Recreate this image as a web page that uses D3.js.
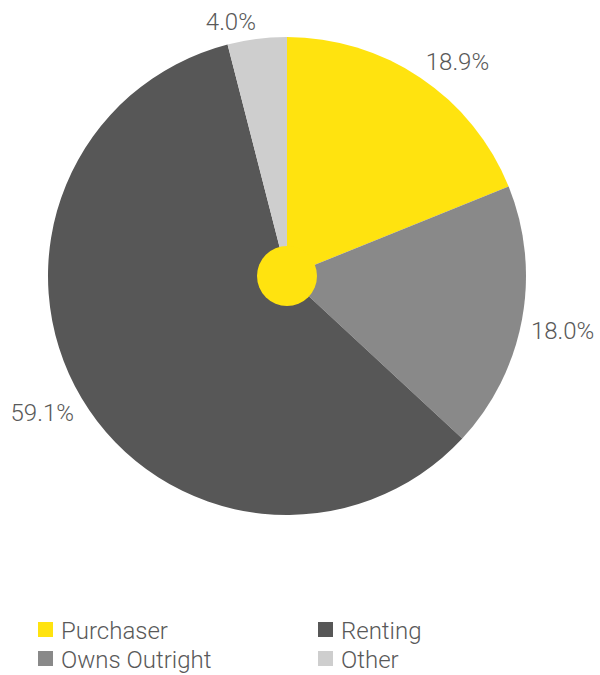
<!DOCTYPE html>
<html>
  <head>
    <meta charset="utf-8">
    <style>
      body { margin: 0; background: #fff; }
      text { font-family: Roboto, 'Liberation Sans', sans-serif; font-weight: 300; fill: #595959; }
    </style>
  </head>
  <body>
    <svg id="svg"></svg>

<script src="https://d3js.org/d3.v7.min.js"></script>
<script>

// data
const categories = ["Purchaser", "Owns Outright", "Renting", "Other"];
const shares = [18.9, 18.0, 59.1, 4.0];
const colours = ["#ffe30f", "#898989", "#575757", "#cecece"];
const legendOrder = ["Purchaser", "Renting", "Owns Outright", "Other"];

const width = 600;
const height = 675;
const cx = 287;
const cy = 276;
const radius = 239;
const labelRadius = 248;

const svg = d3.select("#svg")
    .attr("width", width)
    .attr("height", height);

const colour = d3.scaleOrdinal().domain(categories).range(colours);

const data = categories.map(function(c, i) { return { name: c, value: shares[i] }; });

const pie = d3.pie()
    .sort(null)
    .value(function(d) { return d.value; });

const arcs = pie(data);

const arc = d3.arc().innerRadius(0).outerRadius(radius);
const labelArc = d3.arc().innerRadius(labelRadius).outerRadius(labelRadius);

const chart = svg.append("g")
    .attr("transform", `translate(${cx}, ${cy})`);

chart.selectAll(".slice")
    .data(arcs)
    .enter().append("path")
    .attr("class", "slice")
    .attr("d", arc)
    .attr("fill", function(d) { return colour(d.data.name); });

// yellow hub in the middle
chart.append("circle")
    .attr("r", 30)
    .attr("fill", colour("Purchaser"));

// percentage labels just outside the pie
chart.selectAll(".label")
    .data(arcs)
    .enter().append("text")
    .attr("class", "label")
    .attr("font-size", 24)
    .each(function(d) {
      const mid = (d.startAngle + d.endAngle) / 2;
      const p = labelArc.centroid(d);
      d3.select(this)
        .attr("x", p[0])
        .attr("y", p[1])
        .attr("text-anchor", Math.sin(mid) >= 0 ? "start" : "end")
        .attr("dominant-baseline", p[1] < 0 ? "auto" : "hanging");
    })
    .text(function(d) { return d3.format(".1f")(d.data.value) + "%"; });

// legend, two columns
const legend = svg.append("g")
    .attr("transform", "translate(38, 622)");

const colX = d3.scalePoint().domain([0, 1]).range([0, 280]);
const rowY = d3.scalePoint().domain([0, 1]).range([0, 29]);

const items = legend.selectAll(".item")
    .data(legendOrder)
    .enter().append("g")
    .attr("class", "item")
    .attr("transform", function(d, i) { return `translate(${colX(i % 2)}, ${rowY(Math.floor(i / 2))})`; });

items.append("rect")
    .attr("width", 15)
    .attr("height", 15)
    .attr("fill", function(d) { return colour(d); });

items.append("text")
    .attr("x", 23)
    .attr("y", 8)
    .attr("dy", "0.36em")
    .attr("font-size", 24)
    .text(function(d) { return d; });

</script>
</body>
</html>
